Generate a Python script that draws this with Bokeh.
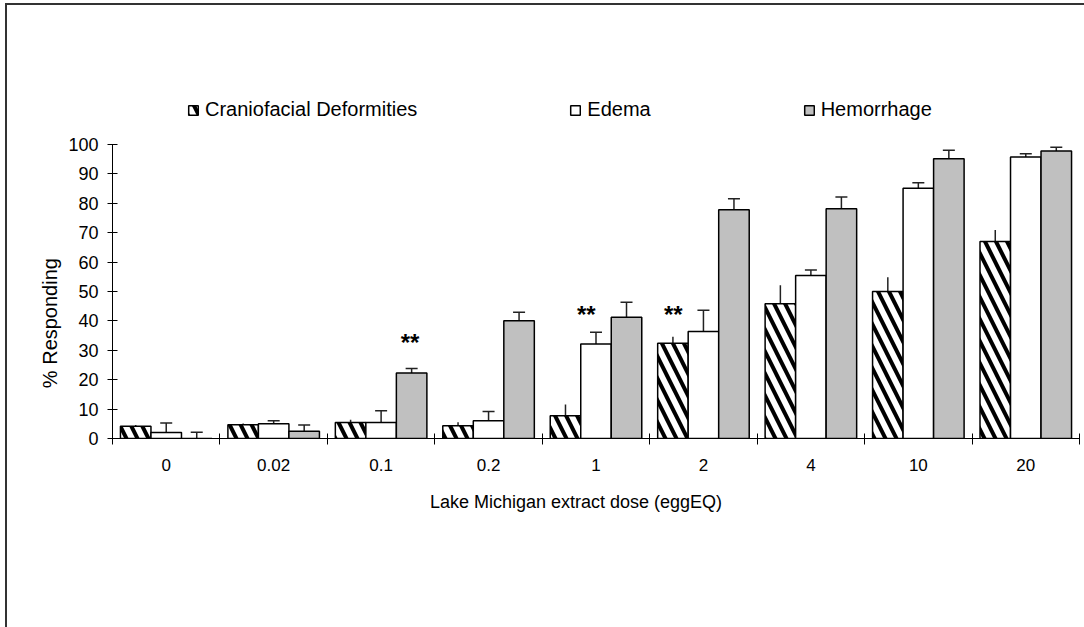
from bokeh.plotting import figure
from bokeh.models import (ColumnDataSource, Range1d, FixedTicker, Whisker, TeeHead,
                          Legend, LegendItem)
from bokeh.core.properties import value
from bokeh.embed import file_html
from bokeh.resources import INLINE

# ---- data -------------------------------------------------------------
doses = ["0", "0.02", "0.1", "0.2", "1", "2", "4", "10", "20"]
series_names = ["Craniofacial Deformities", "Edema", "Hemorrhage"]
cranio = [4.2, 4.7, 5.4, 4.3, 7.7, 32.4, 45.8, 50.0, 67.0]
cranio_err = [0.4, 0.4, 1.0, 1.2, 3.9, 2.2, 6.3, 4.8, 3.9]
edema = [2.0, 5.0, 5.4, 6.0, 32.1, 36.4, 55.4, 85.1, 95.7]
edema_err = [3.3, 1.0, 4.0, 3.2, 4.0, 7.2, 1.9, 1.8, 1.1]
hemo = [0.0, 2.5, 22.3, 40.0, 41.2, 77.8, 78.1, 95.1, 97.7]
hemo_err = [2.1, 2.1, 1.5, 2.9, 5.1, 3.7, 4.0, 2.9, 1.3]
star_x = [2.77, 4.41, 5.22]
star_y = [32.8, 42.2, 42.2]
y_ticks = list(range(0, 101, 10))

FONT = "Liberation Sans"
NB = "\u00a0"

# frame extends above 100 (invisible) so the legend can sit inside it
p = figure(width=1084, height=627, output_backend="svg", toolbar_location=None,
           x_range=Range1d(0, len(doses)), y_range=Range1d(0, 120),
           min_border_left=112, min_border_right=5, min_border_top=85,
           min_border_bottom=189, x_axis_type="linear")
p.xgrid.visible = False
p.ygrid.visible = False
p.outline_line_color = None
p.background_fill_color = "white"
p.border_fill_color = None
p.styles = {
    "background-color": "white",
    "background-image": "linear-gradient(#333333, #333333), linear-gradient(#333333, #333333)",
    "background-size": "2px 100%, 100% 2px",
    "background-position": "5px 3px, 5px 3px",
    "background-repeat": "no-repeat",
}

bw = 0.284
offsets = [-bw, 0.0, bw]
centers = [i + 0.5 for i in range(len(doses))]

styles = [
    dict(fill_color="white", hatch_pattern="left_diagonal_line", hatch_color="black",
         hatch_scale=22, hatch_weight=4),
    dict(fill_color="white"),
    dict(fill_color="#c0c0c0"),
]
vals = [cranio, edema, hemo]
errs = [cranio_err, edema_err, hemo_err]

renderers = []
for k in range(3):
    xs = [c + offsets[k] for c in centers]
    src = ColumnDataSource(dict(
        x=xs, top=vals[k],
        upper=[v + e for v, e in zip(vals[k], errs[k])],
        lower=[v - e for v, e in zip(vals[k], errs[k])],
    ))
    r = p.vbar(x="x", top="top", bottom=0, width=bw, source=src,
               line_color="black", line_width=1.5, **styles[k])
    renderers.append(r)
    upper_head = None if k == 0 else TeeHead(size=12, line_color="#222", line_width=1.5)
    w = Whisker(source=src, base="x", upper="upper", lower="lower", dimension="height",
                line_color="#222", line_width=1.5,
                upper_head=upper_head,
                lower_head=TeeHead(size=12, line_color="#222", line_width=1.5))
    p.add_layout(w)

p.text(x=star_x, y=star_y, text=["**"] * len(star_x), text_font=value(FONT),
       text_font_size="24px", text_font_style="bold", text_align="center",
       text_baseline="middle", text_color="black")

# ---- axes -------------------------------------------------------------
xa = p.xaxis[0]
xa.ticker = FixedTicker(ticks=centers, minor_ticks=list(range(len(doses) + 1)))
xa.major_label_overrides = {c: d for c, d in zip(centers, doses)}
xa.major_tick_in = 0
xa.major_tick_out = 0
xa.minor_tick_in = 5
xa.minor_tick_out = 6
xa.minor_tick_line_color = "black"
xa.axis_line_color = "black"
xa.major_label_standoff = 14
xa.major_label_text_font = FONT
xa.major_label_text_font_size = "17px"
xa.major_label_text_color = "black"
xa.axis_label = "Lake Michigan extract dose (eggEQ)" + NB * 8
xa.axis_label_text_font = FONT
xa.axis_label_text_font_size = "18px"
xa.axis_label_text_font_style = "normal"
xa.axis_label_text_color = "black"
xa.axis_label_standoff = 18

ya = p.yaxis[0]
ya.ticker = FixedTicker(ticks=y_ticks)
ya.bounds = (0, 100)
ya.major_tick_in = 5
ya.major_tick_out = 5
ya.minor_tick_line_color = None
ya.axis_line_color = "black"
ya.major_tick_line_color = "black"
ya.major_label_standoff = 9
ya.major_label_text_font = FONT
ya.major_label_text_font_size = "18px"
ya.major_label_text_color = "black"
ya.axis_label = "% Responding" + NB * 22
ya.axis_label_text_font = FONT
ya.axis_label_text_font_size = "20px"
ya.axis_label_text_font_style = "normal"
ya.axis_label_text_color = "black"
ya.axis_label_standoff = 4

# ---- legend -----------------------------------------------------------
legend = Legend(items=[LegendItem(label=n, renderers=[r]) for n, r in zip(series_names, renderers)],
                orientation="horizontal", location=(75, 317), spacing=152,
                glyph_width=12, glyph_height=12, label_standoff=6,
                padding=0, margin=0, border_line_color=None, background_fill_alpha=0,
                label_text_font=FONT, label_text_font_size="20px", label_text_color="black")
p.add_layout(legend)

open("out.html", "w").write(file_html(p, INLINE))
